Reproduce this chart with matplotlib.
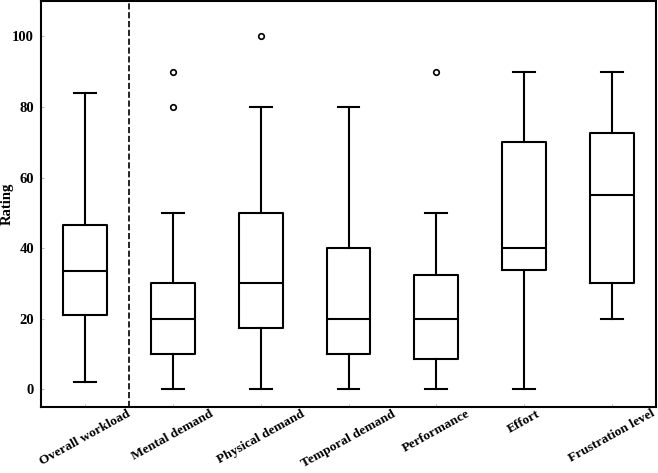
import matplotlib
matplotlib.use('Agg')
import matplotlib.pyplot as plt

plt.rcParams['font.family'] = ['Liberation Serif', 'DejaVu Serif']

categories = ['Overall workload', 'Mental demand', 'Physical demand', 'Temporal demand',
              'Performance', 'Effort', 'Frustration level']
whislo = [2, 0, 0, 0, 0, 0, 20]
q1 = [21, 10, 17.5, 10, 8.7, 33.7, 30]
med = [33.5, 20, 30, 20, 20, 40, 55]
q3 = [46.5, 30, 50, 40, 32.5, 70, 72.5]
whishi = [84, 50, 80, 80, 50, 90, 90]
fliers = [[], [80, 90], [100], [], [90], [], []]

stats = []
for i in range(len(categories)):
    stats.append(dict(label=categories[i], whislo=whislo[i], q1=q1[i], med=med[i],
                      q3=q3[i], whishi=whishi[i], fliers=fliers[i]))

fig = plt.figure(figsize=(6.58, 4.73), dpi=100)
ax = fig.add_axes([41 / 658, 1 - 407 / 473, 615 / 658, 406 / 473])

lw = 1.5
ax.bxp(stats, positions=range(len(categories)), widths=0.5,
       boxprops=dict(color='black', linewidth=lw),
       whiskerprops=dict(color='black', linewidth=lw),
       capprops=dict(color='black', linewidth=lw),
       medianprops=dict(color='black', linewidth=lw),
       flierprops=dict(marker='o', markersize=4, markerfacecolor='white',
                       markeredgecolor='black', markeredgewidth=1.2))

ax.axvline(0.5, color='black', linestyle='--', linewidth=1.2)
ax.set_xlim(-0.5, 6.5)
ax.set_ylim(-5, 110)
ax.set_yticks([0, 20, 40, 60, 80, 100])
ax.set_xticks(range(len(categories)))
ax.set_xticklabels(categories, rotation=29, ha='center', fontsize=9.7, fontweight='bold')
for t in ax.get_yticklabels():
    t.set_fontsize(10.5)
    t.set_fontweight('bold')
ax.set_ylabel('Rating', fontsize=10.5, fontweight='bold')
# right edge of the rotated label sits a bit left of the tick labels
ax.yaxis.set_label_coords(-0.045, 0.5)
ax.tick_params(axis='both', direction='in', length=2, color='#bbbbbb')
ax.tick_params(axis='x', pad=0.5)
ax.tick_params(axis='y', pad=5)
for s in ax.spines.values():
    s.set_linewidth(1.5)

plt.savefig('out.png', dpi=100)
